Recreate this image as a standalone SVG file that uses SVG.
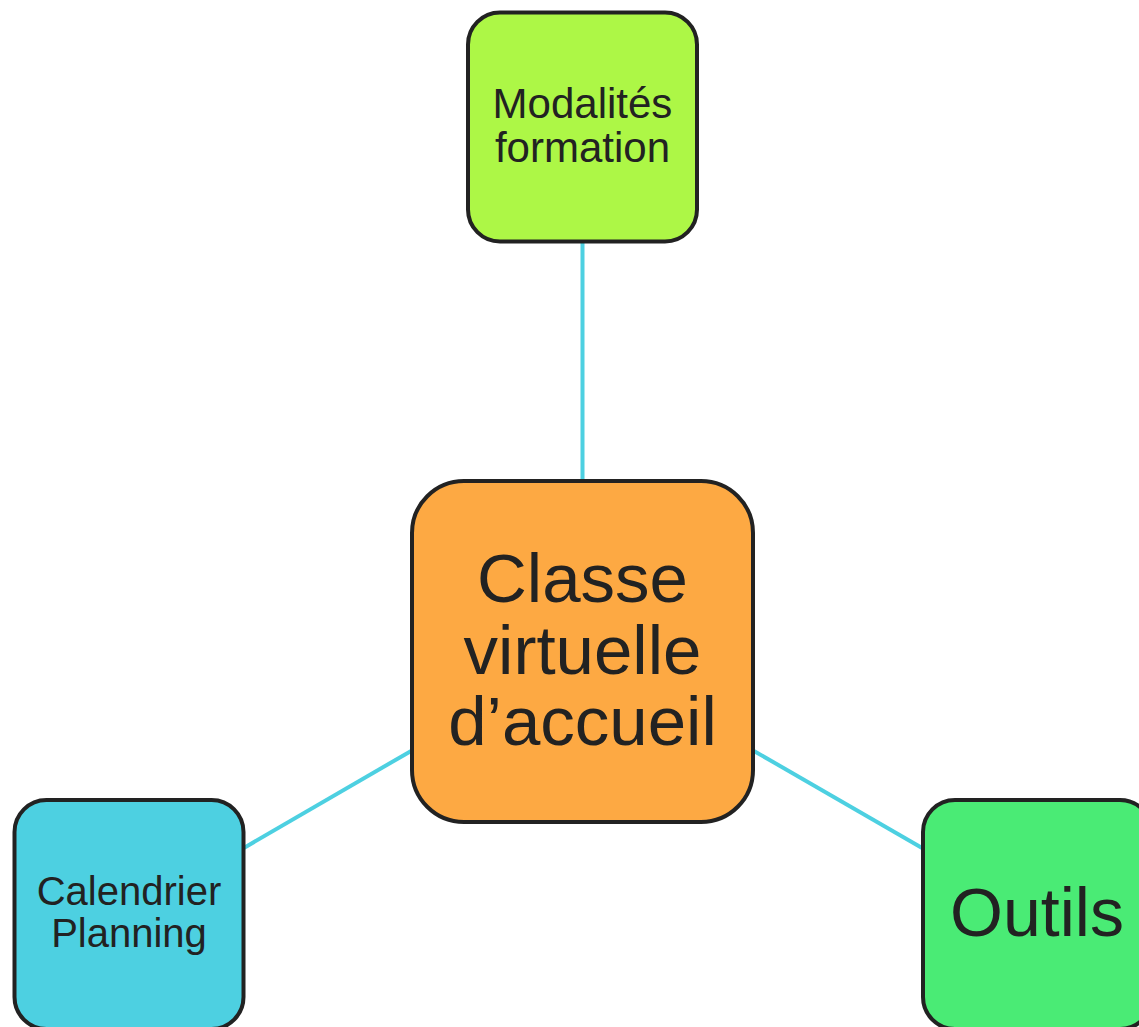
<svg xmlns="http://www.w3.org/2000/svg" width="1139" height="1027" viewBox="0 0 1139 1027">
<style>
.node{stroke:#222222;stroke-width:4}
.lbl{font-family:"Liberation Sans",Arial,sans-serif;fill:#222222;text-anchor:middle}
.conn{stroke:#4DD0E1;stroke-width:4;fill:none}
</style>
<rect width="1139" height="1027" fill="#ffffff"/>
<g id="connectors">
<line class="conn" x1="582.5" y1="242" x2="582.5" y2="481"/>
<line class="conn" x1="412" y1="750.4" x2="243" y2="848.4"/>
<line class="conn" x1="753" y1="750.4" x2="923" y2="848.4"/>
</g>
<g id="node-modalites">
<rect class="node" x="468" y="12.5" width="229" height="229" rx="32" fill="#ADF746"/>
<text class="lbl" font-size="42"><tspan x="582.5" y="118">Modalités</tspan><tspan x="582.5" y="162">formation</tspan></text>
</g>
<g id="node-classe">
<rect class="node" x="412" y="481" width="341" height="341" rx="52" fill="#FDA943"/>
<text class="lbl" font-size="69"><tspan x="582.5" y="602">Classe</tspan><tspan x="582.5" y="673.5">virtuelle</tspan><tspan x="582.5" y="745">d’accueil</tspan></text>
</g>
<g id="node-calendrier">
<rect class="node" x="14.5" y="800" width="229" height="229" rx="32" fill="#4DD0E1"/>
<text class="lbl" font-size="40"><tspan x="129" y="905">Calendrier</tspan><tspan x="129" y="947">Planning</tspan></text>
</g>
<g id="node-outils">
<rect class="node" x="923" y="800" width="229" height="229" rx="32" fill="#4AEB75"/>
<text class="lbl" font-size="68" x="1037" y="936">Outils</text>
</g>
</svg>
